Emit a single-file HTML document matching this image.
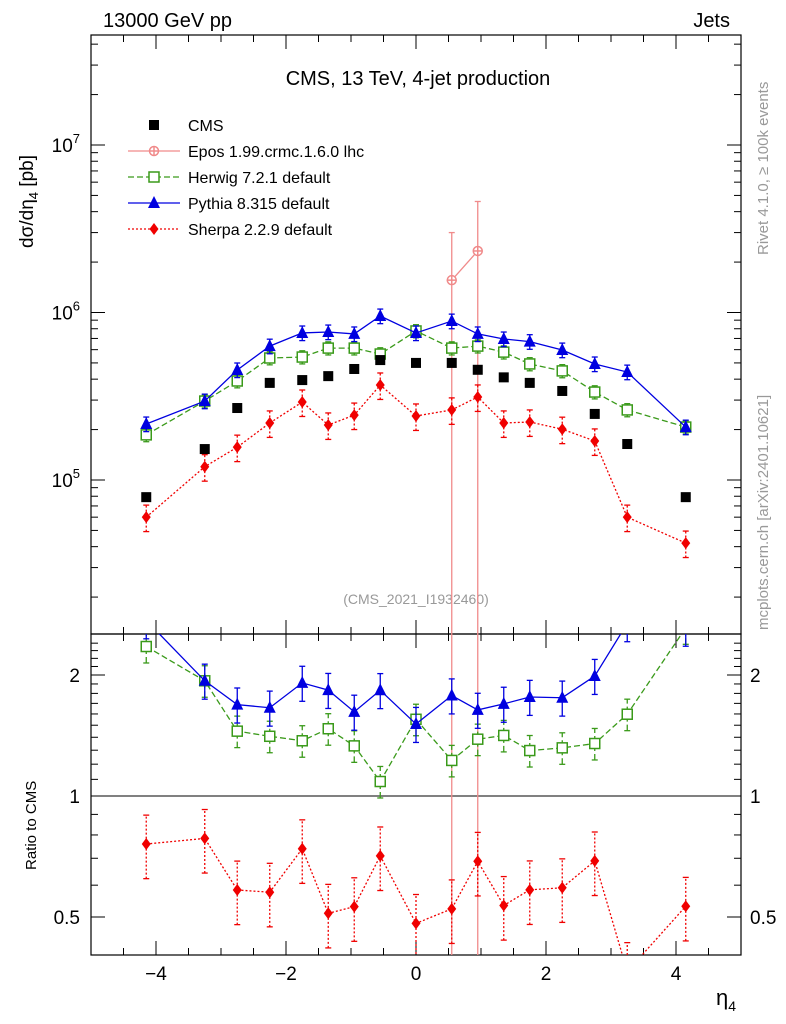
<!DOCTYPE html>
<html><head><meta charset="utf-8"><style>
html,body{margin:0;padding:0;background:#fff;overflow:hidden;width:786px;height:1024px}
svg{font-family:"Liberation Sans",sans-serif;display:block;overflow:hidden}
</style></head><body>
<svg id="c" width="786" height="1024"></svg>
<script>
const xs=[-4.15,-3.25,-2.75,-2.25,-1.75,-1.35,-0.95,-0.55,0,0.55,0.95,1.35,1.75,2.25,2.75,3.25,4.15];
const cms=[7.9e4,1.53e5,2.69e5,3.8e5,3.95e5,4.17e5,4.6e5,5.2e5,5.0e5,5.0e5,4.55e5,4.1e5,3.8e5,3.4e5,2.48e5,1.64e5,7.9e4];
const herwig=[1.86e5,2.96e5,3.9e5,5.35e5,5.42e5,6.13e5,6.13e5,5.65e5,7.76e5,6.13e5,6.3e5,5.8e5,4.93e5,4.48e5,3.35e5,2.62e5,2.07e5];
const pythia=[2.16e5,2.96e5,4.54e5,6.3e5,7.55e5,7.65e5,7.45e5,9.53e5,7.55e5,8.89e5,7.45e5,6.95e5,6.7e5,5.97e5,4.93e5,4.41e5,2.07e5];
const sherpa=[6.0e4,1.2e5,1.57e5,2.19e5,2.92e5,2.13e5,2.44e5,3.69e5,2.41e5,2.62e5,3.13e5,2.19e5,2.22e5,2.01e5,1.71e5,6.0e4,4.2e4];
const eposX=[0.55,0.95];
const epos=[1.56e6,2.33e6];
const eposLo=[1e3,1e3];
const eposHi=[3.0e6,4.6e6];
const herwigErr=0.09, pythiaErr=0.1, sherpaErr=0.18;
const xTicks=[-4,-2,0,2,4];
const yMajor=[1e5,1e6,1e7];
const rTicks=[0.5,1,2];

const svg=document.getElementById('c');
const NS='http://www.w3.org/2000/svg';
const L=91,R=741,T=35,MB=634,RB=955;
const X=v=>416+v*65;
const Y=v=>480-(Math.log10(v)-5)*167.5;
const RY=v=>796-Math.log2(v)*121;
const clamp=(v,a,b)=>Math.max(a,Math.min(b,v));
function el(t,a,p){const e=document.createElementNS(NS,t);for(const k in a)e.setAttribute(k,a[k]);(p||svg).appendChild(e);return e;}
function txt(s,x,y,a){const e=el('text',Object.assign({x:x,y:y,'font-size':19},a||{}));e.textContent=s;return e;}
const clipM=el('clipPath',{id:'cm'});el('rect',{x:L,y:T,width:R-L,height:MB-T},clipM);
const clipR=el('clipPath',{id:'cr'});el('rect',{x:L,y:MB,width:R-L,height:RB-MB},clipR);

const fm=el('rect',{x:L,y:T,width:R-L,height:MB-T,fill:'none',stroke:'#000','stroke-width':1.2});

const fr=el('rect',{x:L,y:MB,width:R-L,height:RB-MB,fill:'none',stroke:'#000','stroke-width':1.2});

el('line',{x1:L,x2:R,y1:RY(1),y2:RY(1),stroke:'#000','stroke-width':1});

for(let v=-5;v<=5.001;v+=0.5){const maj=Math.abs(v%2)<1e-6;const l=maj?14:7;
 el('line',{x1:X(v),x2:X(v),y1:RB,y2:RB-l,stroke:'#000'});el('line',{x1:X(v),x2:X(v),y1:MB,y2:MB-l,stroke:'#000'});
 el('line',{x1:X(v),x2:X(v),y1:T,y2:T+l,stroke:'#000'});el('line',{x1:X(v),x2:X(v),y1:MB,y2:MB+l,stroke:'#000'});}
xTicks.forEach(v=>{const t=txt(v<0?'\u2212'+(-v):String(v),X(v),980,{'text-anchor':'middle'});
 });
for(let d=4;d<=7;d++)for(let m=1;m<10;m++){const v=m*Math.pow(10,d);const y=Y(v);if(y<T||y>MB)continue;const l=m==1?14:7;
 el('line',{x1:L,x2:L+l,y1:y,y2:y,stroke:'#000'});el('line',{x1:R,x2:R-l,y1:y,y2:y,stroke:'#000'});}
yMajor.forEach(v=>{const e=Math.log10(v);const t=el('text',{x:80,y:Y(v)+7,'font-size':19,'text-anchor':'end'});
 
 t.innerHTML='10<tspan dy="-9" font-size="13">'+e+'</tspan>';});
for(let v=0.4;v<=2.5;v+=0.1){const y=RY(v);if(y<MB||y>RB)continue;const maj=rTicks.some(r=>Math.abs(r-v)<1e-6);const l=maj?14:7;
 el('line',{x1:L,x2:L+l,y1:y,y2:y,stroke:'#000'});el('line',{x1:R,x2:R-l,y1:y,y2:y,stroke:'#000'});}
rTicks.forEach(v=>{const a=txt(String(v),80,RY(v)+7,{'text-anchor':'end'});
 const b=txt(String(v),750,RY(v)+7);});

let t;
t=txt('13000 GeV pp',103,27,{'font-size':20});
t=txt('Jets',730,27,{'font-size':20,'text-anchor':'end'});
t=txt('CMS, 13 TeV, 4-jet production',418,85,{'font-size':20,'text-anchor':'middle'});
t=txt('(CMS_2021_I1932460)',416,604,{'font-size':14,fill:'#999','text-anchor':'middle'});
t=el('text',{x:0,y:0,'font-size':19,transform:'translate(33,155) rotate(-90)','text-anchor':'end'});
t.innerHTML='d\u03c3/d\u03b7<tspan dy="5" font-size="13">4</tspan><tspan dy="-5"> [pb]</tspan>';

t=txt('Ratio to CMS',0,0,{'font-size':15,transform:'translate(36,870) rotate(-90)'});
t=el('text',{x:716,y:1005,'font-size':22});t.innerHTML='\u03b7<tspan dy="6" font-size="14">4</tspan>';

t=txt('Rivet 4.1.0, \u2265 100k events',0,0,{'font-size':15,fill:'#999',transform:'translate(768,255) rotate(-90)'});
t=txt('mcplots.cern.ch [arXiv:2401.10621]',0,0,{'font-size':15,fill:'#999',transform:'translate(768,630) rotate(-90)'});

function marker(kind,x,y,col,g){
 if(kind=='sq')el('rect',{x:x-5,y:y-5,width:10,height:10,fill:col},g);
 else if(kind=='osq')el('rect',{x:x-5,y:y-5,width:10,height:10,fill:'#fff',stroke:col,'stroke-width':1.5},g);
 else if(kind=='tri')el('polygon',{points:`${x},${y-7} ${x-6},${y+5} ${x+6},${y+5}`,fill:col},g);
 else if(kind=='dia')el('polygon',{points:`${x},${y-6} ${x+4.5},${y} ${x},${y+6} ${x-4.5},${y}`,fill:col},g);
 else if(kind=='cross'){el('circle',{cx:x,cy:y,r:4.5,fill:'#fff',stroke:col,'stroke-width':1.5},g);el('line',{x1:x-4.5,x2:x+4.5,y1:y,y2:y,stroke:col,'stroke-width':1.5},g);el('line',{x1:x,x2:x,y1:y-4.5,y2:y+4.5,stroke:col,'stroke-width':1.5},g);}
}
function series(name,vals,err,col,kind,dash,sx){
 sx=sx||xs;
 [[Y,'cm',v=>v,T,MB],[RY,'cr',(v,i)=>v/cms[xs.indexOf(sx[i])],MB,RB]].forEach(([fy,cl,tr,y0,y1],pi)=>{
  const g=el('g',{'clip-path':'url(#'+cl+')'});
  
  const cy=v=>clamp(v,y0-20,y1+20);
  const pts=vals.map((v,i)=>[X(sx[i]),cy(fy(tr(v,i)))]);
  el('polyline',{points:pts.map(p=>p.join(',')).join(' '),fill:'none',stroke:col,'stroke-width':1.3,'stroke-dasharray':dash},g);
  vals.forEach((v,i)=>{const r=tr(v,i);let lo,hi;
   if(Array.isArray(err)){lo=fy(tr(err[0][i],i));hi=fy(tr(err[1][i],i));}else{lo=fy(r*(1-err));hi=fy(r*(1+err));}
   lo=cy(lo);hi=cy(hi);
   const x=pts[i][0];el('line',{x1:x,x2:x,y1:lo,y2:hi,stroke:col,'stroke-width':1.3,'stroke-dasharray':dash},g);
   el('line',{x1:x-3,x2:x+3,y1:lo,y2:lo,stroke:col,'stroke-width':1.3},g);el('line',{x1:x-3,x2:x+3,y1:hi,y2:hi,stroke:col,'stroke-width':1.3},g);
   const m=el('g',{},g);
   marker(kind,x,pts[i][1],col,m);});
 });
}
series('epos',epos,[eposLo,eposHi],'#f08a8a','cross','',eposX);
series('herwig',herwig,herwigErr,'#3a9a1a','osq','6,3');
series('pythia',pythia,pythiaErr,'#0000e0','tri','');
series('sherpa',sherpa,sherpaErr,'#f00000','dia','2,2');
const gc=el('g',{});
cms.forEach((v,i)=>{const m=el('g',{},gc);marker('sq',X(xs[i]),Y(v),'#000',m);});

const leg=[['CMS','#000','sq',''],['Epos 1.99.crmc.1.6.0 lhc','#f08a8a','cross',''],['Herwig 7.2.1 default','#3a9a1a','osq','6,3'],['Pythia 8.315 default','#0000e0','tri',''],['Sherpa 2.2.9 default','#f00000','dia','2,2']];
leg.forEach((l,i)=>{const y=125+i*26;const g=el('g',{});
 if(i>0)el('line',{x1:128,x2:180,y1:y,y2:y,stroke:l[1],'stroke-width':1.3,'stroke-dasharray':l[3]},g);
 marker(l[2],154,y,l[1],g);const tt=txt(l[0],188,y+6,{'font-size':16});g.appendChild(tt);});
</script>
</body></html>
